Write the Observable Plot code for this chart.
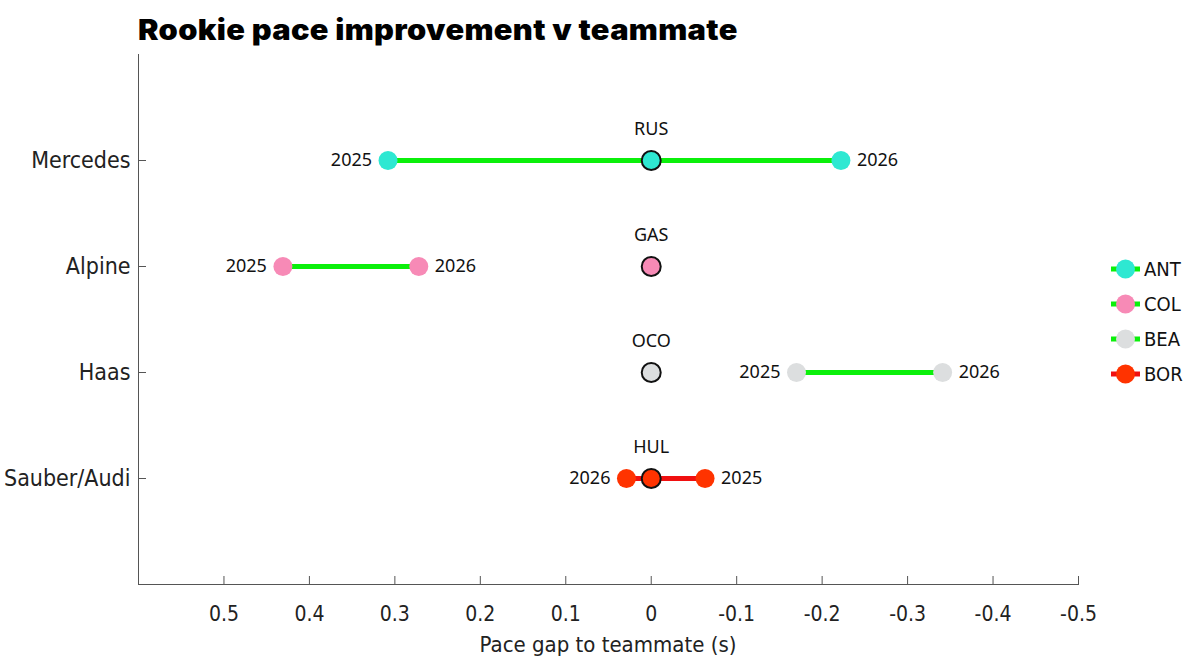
<!DOCTYPE html>
<html><head><meta charset="utf-8">
<script src="https://cdn.jsdelivr.net/npm/d3@7"></script>
<script src="https://cdn.jsdelivr.net/npm/@observablehq/plot@0.6"></script>
<style>
body{margin:0;background:#fff;width:1202px;height:661px;overflow:hidden;position:relative;}
#title{height:50px;box-sizing:border-box;padding:13px 0 0 138px;}
#title span{display:inline-block;font:900 28px Inter,sans-serif;color:#000;letter-spacing:0.3px;transform:scaleX(1.1);transform-origin:left center;white-space:nowrap;}
#legend{position:absolute;left:1110px;top:251px;font:20px "Liberation Sans Narrow","DejaVu Sans Condensed",sans-serif;color:#111;}
#legend .row{display:flex;align-items:center;height:35px;}
#legend svg{margin-right:3px;}
#xlabel{position:absolute;left:408px;width:400px;text-align:center;top:631px;font:22px "Liberation Sans Narrow","DejaVu Sans Condensed",sans-serif;color:#222;line-height:28px;}
</style></head>
<body>
<div id="title"><span>Rookie pace improvement v teammate</span></div>
<div id="chart"></div>
<div id="legend"></div>
<div id="xlabel"></div>
<script>
const teams = ["Mercedes", "Alpine", "Haas", "Sauber/Audi"];
const rookies = ["ANT", "COL", "BEA", "BOR"];
const teammates = ["RUS", "GAS", "OCO", "HUL"];
const gap2025 = [0.308, 0.431, -0.170, -0.063];
const gap2026 = [-0.222, 0.272, -0.341, 0.029];
const teammateGap = [0, 0, 0, 0];
const rookieColors = ["#2ee8d2", "#f78ab6", "#dcdedf", "#ff3300"];
const lineColors = ["#0bf00b", "#0bf00b", "#0bf00b", "#f01010"];
const xTicks = [0.5, 0.4, 0.3, 0.2, 0.1, 0, -0.1, -0.2, -0.3, -0.4, -0.5];
const xDomain = [0.6, -0.5];
const xLabel = "Pace gap to teammate (s)";

const rows = teams.map((team, i) => ({
  team, rookie: rookies[i], teammate: teammates[i],
  g25: gap2025[i], g26: gap2026[i], tm: teammateGap[i],
  color: rookieColors[i], line: lineColors[i]
}));
const pts = rows.flatMap(r => [
  {team: r.team, year: "2025", gap: r.g25, other: r.g26, color: r.color},
  {team: r.team, year: "2026", gap: r.g26, other: r.g25, color: r.color}
]);
const leftPts = pts.filter(p => p.gap > p.other);
const rightPts = pts.filter(p => p.gap < p.other);

const axisFont = '"Liberation Sans Narrow","DejaVu Sans Condensed",sans-serif';
const labelFont = '"Noto Sans","Open Sans",sans-serif';

const plot = Plot.plot({
  width: 1202, height: 611,
  marginLeft: 138, marginRight: 124, marginTop: 4, marginBottom: 77,
  style: {fontFamily: axisFont, background: "#fff", color: "#222", overflow: "visible"},
  x: {domain: xDomain, ticks: xTicks, label: null},
  y: {type: "point", domain: teams, padding: 1, label: null},
  marks: [
    Plot.frame({anchor: "left", stroke: "#555"}),
    Plot.frame({anchor: "bottom", stroke: "#555"}),
    Plot.axisX({ticks: xTicks, tickSize: -8, tickPadding: 30, fontSize: 21,
      tickFormat: d => String(d), label: null, stroke: "#555", fill: "#222"}),
    Plot.axisY({tickSize: -8, tickPadding: 16, fontSize: 23, label: null, stroke: "#555", fill: "#222"}),
    Plot.link(rows, {x1: "g25", x2: "g26", y1: "team", y2: "team", stroke: "line", strokeWidth: 5}),
    Plot.dot(pts, {x: "gap", y: "team", r: 9.5, fill: "color"}),
    Plot.dot(rows, {x: "tm", y: "team", r: 9.5, fill: "color", stroke: "#111", strokeWidth: 2}),
    Plot.text(rows, {x: "tm", y: "team", text: "teammate", dy: -31, fontSize: 18, fontFamily: labelFont, fill: "#111"}),
    Plot.text(leftPts, {x: "gap", y: "team", text: "year", textAnchor: "end", dx: -16, fontSize: 18, fontFamily: labelFont, fill: "#111"}),
    Plot.text(rightPts, {x: "gap", y: "team", text: "year", textAnchor: "start", dx: 16, fontSize: 18, fontFamily: labelFont, fill: "#111"})
  ]
});
document.getElementById("chart").appendChild(plot);
document.getElementById("xlabel").textContent = xLabel;

const legend = d3.select("#legend");
rows.forEach(r => {
  const row = legend.append("div").attr("class", "row");
  const s = row.append("svg").attr("width", 31).attr("height", 22);
  s.append("line").attr("x1", 1).attr("x2", 30).attr("y1", 11).attr("y2", 11).attr("stroke", r.line).attr("stroke-width", 5);
  s.append("circle").attr("cx", 15.5).attr("cy", 11).attr("r", 9.5).attr("fill", r.color);
  row.append("span").text(r.rookie);
});
</script>
</body></html>
